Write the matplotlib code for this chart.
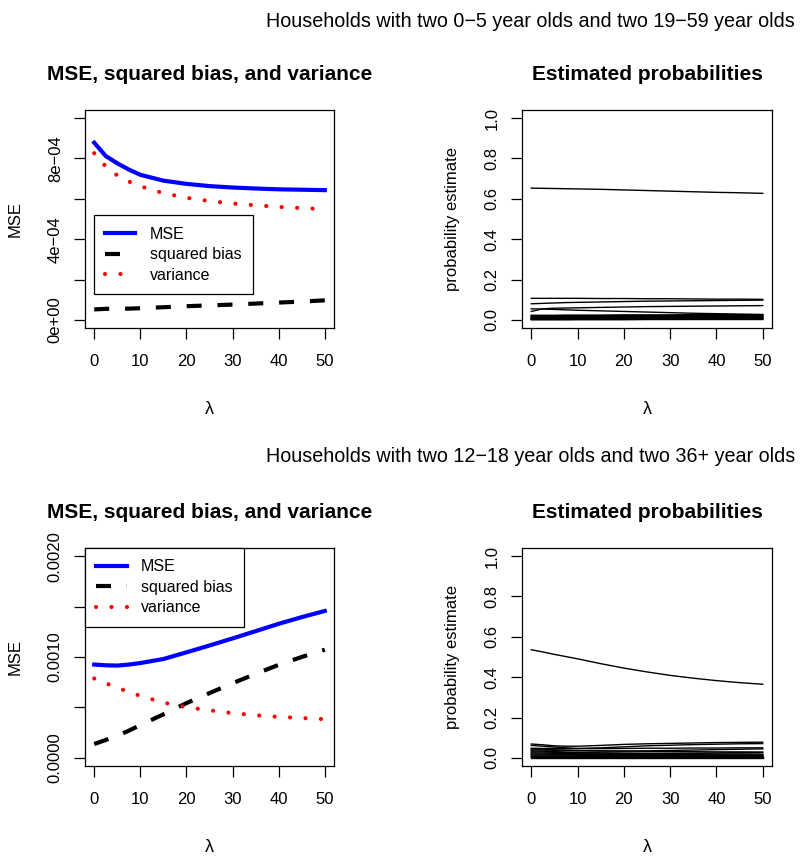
import numpy as np
import matplotlib
matplotlib.use('Agg')
import matplotlib.pyplot as plt

plt.rcParams['font.family'] = ['Liberation Sans', 'DejaVu Sans']

############################ data ############################
# lambda values the curves were read at
lam = [0, 2.5, 5, 7.5, 10, 15, 20, 25, 30, 35, 40, 45, 50]

# households with two 0-5 and two 19-59 year olds (units of 1e-4)
mse_top = [8.78, 8.12, 7.76, 7.45, 7.19, 6.90, 6.74, 6.63, 6.56, 6.51, 6.47, 6.45, 6.43]
bias_top = [0.52, 0.55, 0.55, 0.56, 0.58, 0.63, 0.68, 0.72, 0.76, 0.81, 0.86, 0.91, 0.97]
var_top = [8.26, 7.60, 7.16, 6.86, 6.62, 6.28, 6.05, 5.89, 5.77, 5.68, 5.60, 5.54, 5.49]

# households with two 12-18 and two 36+ year olds (units of 1e-4)
mse_bot = [9.25, 9.18, 9.15, 9.25, 9.40, 9.80, 10.46, 11.14, 11.84, 12.56, 13.29, 13.95, 14.56]
bias_bot = [1.38, 1.78, 2.20, 2.70, 3.25, 4.32, 5.43, 6.42, 7.40, 8.33, 9.22, 10.00, 10.72]
var_bot = [7.87, 7.40, 6.95, 6.55, 6.15, 5.48, 5.03, 4.72, 4.44, 4.23, 4.07, 3.95, 3.84]

# estimated probabilities, one row per category
prob_top = [
    [0.653, 0.652, 0.651, 0.650, 0.649, 0.647, 0.644, 0.641, 0.638, 0.635, 0.632, 0.630, 0.627],
    [0.107, 0.107, 0.107, 0.107, 0.107, 0.106, 0.106, 0.105, 0.105, 0.104, 0.103, 0.103, 0.102],
    [0.080, 0.082, 0.084, 0.086, 0.087, 0.089, 0.091, 0.093, 0.094, 0.095, 0.096, 0.097, 0.098],
    [0.042, 0.055, 0.058, 0.059, 0.060, 0.062, 0.064, 0.066, 0.067, 0.068, 0.069, 0.070, 0.071],
    [0.055, 0.054, 0.052, 0.050, 0.048, 0.045, 0.042, 0.039, 0.036, 0.033, 0.031, 0.029, 0.027],
    [0.023, 0.023, 0.023, 0.024, 0.024, 0.024, 0.025, 0.025, 0.025, 0.026, 0.026, 0.026, 0.026],
    [0.020, 0.020, 0.020, 0.021, 0.021, 0.021, 0.022, 0.022, 0.022, 0.023, 0.023, 0.023, 0.023],
    [0.017, 0.017, 0.017, 0.017, 0.018, 0.018, 0.018, 0.019, 0.019, 0.019, 0.020, 0.020, 0.020],
    [0.014, 0.014, 0.014, 0.014, 0.015, 0.015, 0.015, 0.016, 0.016, 0.016, 0.017, 0.017, 0.017],
    [0.011, 0.011, 0.011, 0.011, 0.012, 0.012, 0.012, 0.013, 0.013, 0.013, 0.014, 0.014, 0.014],
    [0.008, 0.008, 0.008, 0.009, 0.009, 0.009, 0.009, 0.010, 0.010, 0.010, 0.011, 0.011, 0.011],
    [0.006, 0.006, 0.006, 0.006, 0.006, 0.007, 0.007, 0.007, 0.007, 0.008, 0.008, 0.008, 0.008],
    [0.004, 0.004, 0.004, 0.004, 0.004, 0.005, 0.005, 0.005, 0.005, 0.005, 0.006, 0.006, 0.006],
    [0.002, 0.002, 0.002, 0.002, 0.003, 0.003, 0.003, 0.003, 0.003, 0.003, 0.004, 0.004, 0.004],
    [0.001, 0.001, 0.001, 0.001, 0.001, 0.001, 0.001, 0.002, 0.002, 0.002, 0.002, 0.002, 0.002],
]
prob_bot = [
    [0.536, 0.525, 0.513, 0.502, 0.491, 0.467, 0.445, 0.426, 0.409, 0.395, 0.383, 0.373, 0.365],
    [0.069, 0.065, 0.060, 0.058, 0.058, 0.062, 0.067, 0.070, 0.072, 0.074, 0.076, 0.077, 0.078],
    [0.062, 0.058, 0.054, 0.050, 0.047, 0.050, 0.055, 0.060, 0.063, 0.066, 0.068, 0.070, 0.071],
    [0.048, 0.047, 0.047, 0.046, 0.046, 0.046, 0.047, 0.048, 0.048, 0.049, 0.049, 0.050, 0.050],
    [0.045, 0.043, 0.040, 0.038, 0.036, 0.034, 0.034, 0.035, 0.037, 0.039, 0.041, 0.043, 0.045],
    [0.040, 0.039, 0.038, 0.037, 0.036, 0.035, 0.034, 0.033, 0.032, 0.031, 0.030, 0.030, 0.029],
    [0.035, 0.033, 0.031, 0.029, 0.027, 0.024, 0.022, 0.022, 0.023, 0.024, 0.025, 0.026, 0.027],
    [0.030, 0.029, 0.028, 0.027, 0.026, 0.025, 0.024, 0.023, 0.022, 0.021, 0.020, 0.020, 0.019],
    [0.025, 0.024, 0.023, 0.022, 0.021, 0.019, 0.018, 0.017, 0.016, 0.016, 0.015, 0.015, 0.015],
    [0.020, 0.019, 0.018, 0.017, 0.017, 0.016, 0.015, 0.014, 0.013, 0.013, 0.012, 0.012, 0.012],
    [0.015, 0.015, 0.014, 0.014, 0.013, 0.013, 0.012, 0.012, 0.011, 0.011, 0.010, 0.010, 0.010],
    [0.010, 0.010, 0.010, 0.009, 0.009, 0.009, 0.009, 0.008, 0.008, 0.008, 0.008, 0.008, 0.008],
    [0.006, 0.006, 0.006, 0.006, 0.006, 0.006, 0.005, 0.005, 0.005, 0.005, 0.005, 0.005, 0.005],
    [0.003, 0.003, 0.003, 0.003, 0.003, 0.003, 0.003, 0.003, 0.003, 0.003, 0.003, 0.003, 0.003],
    [0.001, 0.001, 0.001, 0.001, 0.001, 0.001, 0.001, 0.001, 0.001, 0.001, 0.001, 0.001, 0.001],
]

x_ticks = [0, 10, 20, 30, 40, 50]
top_yticks = [0, 2e-4, 4e-4, 6e-4, 8e-4, 1e-3]
top_ylabels = ['0e+00', '', '4e\u221204', '', '8e\u221204', '']
bot_yticks = [0, 5e-4, 1e-3, 1.5e-3, 2e-3]
bot_ylabels = ['0.0000', '', '0.0010', '', '0.0020']
prob_yticks = [0, 0.2, 0.4, 0.6, 0.8, 1.0]
prob_ylabels = ['0.0', '0.2', '0.4', '0.6', '0.8', '1.0']

title_top = 'Households with two 0\u22125 year olds and two 19\u221259 year olds'
title_bot = 'Households with two 12\u221218 year olds and two 36+ year olds'

############################ plot ############################
W, H = 800, 856
fig = plt.figure(figsize=(W / 100, H / 100), dpi=100)


def box(x0, y0, x1, y1):
    # pixel box (top-left origin) -> figure fraction
    return [x0 / W, 1 - y1 / H, (x1 - x0) / W, (y1 - y0) / H]


def style_axes(ax, yticks, ylabels, ylim, ylabel, title):
    ax.set_xlim(-2, 52)
    ax.set_ylim(ylim)
    ax.set_xticks(x_ticks)
    ax.set_xticklabels([str(t) for t in x_ticks])
    ax.set_yticks(yticks)
    ax.set_yticklabels(ylabels)
    ax.tick_params(direction='out', length=8, width=0.9, labelsize=12, colors='black')
    ax.tick_params(axis='x', pad=10.5)
    ax.tick_params(axis='y', pad=8, labelrotation=90)
    for lab in ax.get_yticklabels():
        lab.set_va('center')
    for s in ax.spines.values():
        s.set_linewidth(0.9)
    ax.set_xlabel('\u03bb', fontsize=13, labelpad=23)
    ax.set_ylabel(ylabel, fontsize=12, labelpad=18)
    ax.set_title(title, fontsize=15, fontweight='bold', pad=21.5)


def mse_panel(ax, mse, bias, var, yticks, ylabels, ylim, legend_kw):
    x = np.array(lam)
    ax.plot(x, np.array(mse) * 1e-4, color='blue', lw=3, label='MSE')
    ax.plot(x, np.array(bias) * 1e-4, color='black', lw=3,
            linestyle=(0, (3.6, 3.8)), dash_capstyle='butt', label='squared bias')
    ax.plot(x, np.array(var) * 1e-4, color='red', lw=3,
            linestyle=(0, (0.01, 3.7)), dash_capstyle='round', label='variance')
    style_axes(ax, yticks, ylabels, ylim, 'MSE', 'MSE, squared bias, and variance')
    leg = ax.legend(fontsize=11.5, frameon=True, fancybox=False, framealpha=1,
                    edgecolor='black', handlelength=1.9, handletextpad=0.9,
                    labelspacing=0.35, borderpad=0.7, borderaxespad=0, **legend_kw)
    leg.get_frame().set_linewidth(0.9)


def prob_panel(ax, probs):
    for row in probs:
        ax.plot(lam, row, color='black', lw=1.0)
    style_axes(ax, prob_yticks, prob_ylabels, (-0.04, 1.04), 'probability estimate',
               'Estimated probabilities')


ax1 = fig.add_axes(box(85, 110, 334, 328))
mse_panel(ax1, mse_top, bias_top, var_top, top_yticks, top_ylabels, (-0.04e-3, 1.04e-3),
          dict(loc='lower left', bbox_to_anchor=(0.036, 0.156)))
ax2 = fig.add_axes(box(522, 110, 772, 328))
prob_panel(ax2, prob_top)

ax3 = fig.add_axes(box(85, 548, 334, 766))
mse_panel(ax3, mse_bot, bias_bot, var_bot, bot_yticks, bot_ylabels, (-0.08e-3, 2.08e-3),
          dict(loc='upper left', bbox_to_anchor=(0, 1)))
ax4 = fig.add_axes(box(522, 548, 772, 766))
prob_panel(ax4, prob_bot)

fig.text(795 / W, 1 - 27 / H, title_top, ha='right', va='baseline', fontsize=14.2)
fig.text(795 / W, 1 - 462 / H, title_bot, ha='right', va='baseline', fontsize=14.2)

fig.savefig('out.png', dpi=100, facecolor='white')
